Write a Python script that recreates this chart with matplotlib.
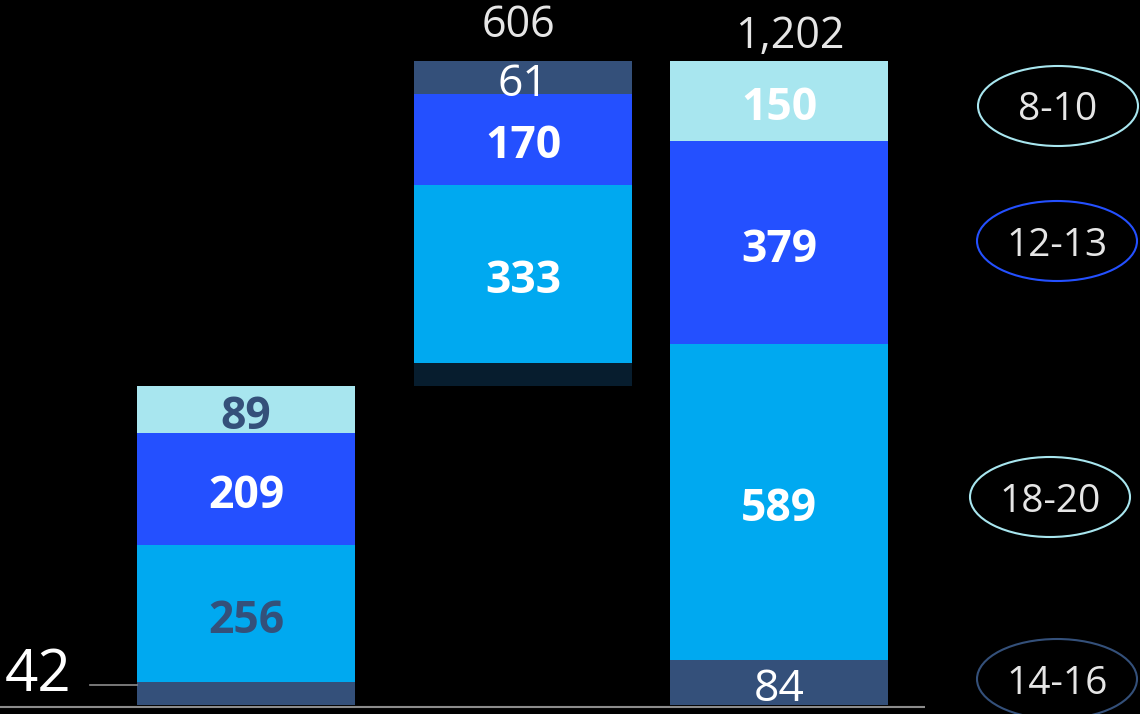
import matplotlib
matplotlib.use("Agg")
import matplotlib.pyplot as plt
from matplotlib.patches import Ellipse

plt.rcParams['font.family'] = ['Open Sans', 'DejaVu Sans']

# segments bottom -> top
bar1_values = [42, 256, 209, 89]
bar2_values = [42, 333, 170, 61]
bar3_values = [84, 589, 379, 150]
bar2_base = 596
totals = ["", "606", "1,202"]
base_label = "42"
age_groups = ["8-10", "12-13", "18-20", "14-16"]

NAVY = "#34507a"
LIGHT = "#00a9f0"
BLUE = "#2450ff"
PALE = "#a8e6ef"
DARK = "#071d2e"

bars = [
    # (base, values, colors, label colors, bold flags, show labels)
    (0, bar1_values, [NAVY, LIGHT, BLUE, PALE],
     ["white", NAVY, "white", NAVY], [True, True, True, True], [False, True, True, True]),
    (bar2_base, bar2_values, [DARK, LIGHT, BLUE, NAVY],
     ["white", "white", "white", "white"], [False, True, True, False], [False, True, True, True]),
    (0, bar3_values, [NAVY, LIGHT, BLUE, PALE],
     ["white", "white", "white", "white"], [False, True, True, True], [True, True, True, True]),
]
bar_x = [246, 523, 779]
total_gap = [0, 24, 4]
total_dx = [0, -4, 11]

fig = plt.figure(figsize=(11.4, 7.14), dpi=100, facecolor="black")
ax = fig.add_axes([0, 0, 1, 1])
ax.set_facecolor("black")
ax.set_xlim(0, 1140)
ax.set_ylim(-16.8, 1315.8)
ax.axis("off")

width = 218
for i, (base, vals, cols, lcols, bolds, shows) in enumerate(bars):
    xc = bar_x[i]
    bottom = base
    for v, c, lc, b, s in zip(vals, cols, lcols, bolds, shows):
        ax.bar(xc, v, width=width, bottom=bottom, color=c, linewidth=0)
        if s:
            ax.text(xc, bottom + v / 2 - 4, f"{v:,}", ha="center", va="center_baseline",
                    color=lc, fontsize=32, fontweight="bold" if b else "normal")
        bottom += v
    if totals[i]:
        ax.text(xc + total_dx[i], bottom + total_gap[i], totals[i], ha="center",
                va="bottom", color="#e6e6e6", fontsize=31)

# baseline
ax.plot([0, 925], [-4, -4], color="#8c8c8c", lw=1.5, solid_capstyle="butt")
# 42 callout
ax.plot([90, 137], [37, 37], color="#8c8c8c", lw=1.2)
ax.text(5, 67, base_label, ha="left", va="center_baseline", color="white", fontsize=42)

# age group legend
ell_pos = [(1058, 106), (1057, 241), (1050, 497), (1057, 679)]
ell_cols = [PALE, BLUE, PALE, NAVY]
for (ex, ey), col, lab in zip(ell_pos, ell_cols, age_groups):
    e = Ellipse((ex / 1140, 1 - ey / 714), 160 / 1140, 80 / 714,
                transform=ax.transAxes, facecolor="none", edgecolor=col, lw=1.5)
    ax.add_patch(e)
    ax.text(ex / 1140, 1 - ey / 714, lab, transform=ax.transAxes, ha="center",
            va="center_baseline", color="#e6e6e6", fontsize=28)

fig.savefig("out.png", dpi=100, facecolor="black")
